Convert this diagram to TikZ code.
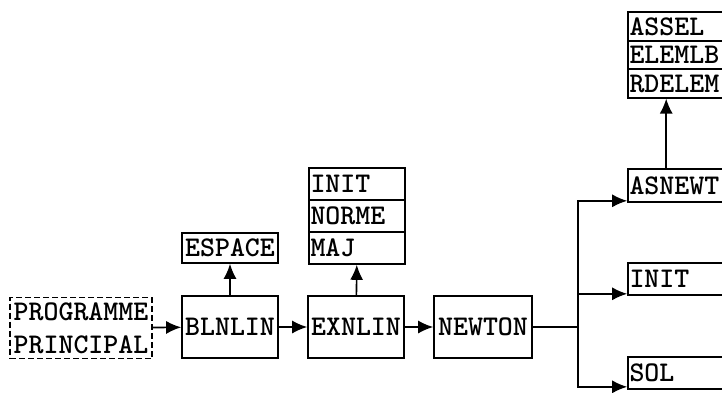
\documentclass[tikz,border=0pt]{standalone}
\usepackage{fontspec}
\usetikzlibrary{arrows.meta}
\tikzset{
  routine/.style={rectangle,draw=black,line width=1.6pt,minimum width=96pt,minimum height=62pt,inner sep=1pt},
  entry/.style={rectangle,draw=black,line width=1.6pt,text width=93pt,align=left,inner sep=1.5pt,minimum height=32pt},
  flow/.style={line width=1.6pt,-{Latex[length=15pt,width=13pt]}},
}
\begin{document}
\begin{tikzpicture}[x=1pt,y=-1pt,font=\ttfamily\bfseries\fontsize{28.5}{33}\selectfont]
\useasboundingbox (0,0) rectangle (722,392);
\clip (0,0) rectangle (722,392);

\node[routine,dash pattern=on 6pt off 3pt,minimum width=142pt,minimum height=61pt,align=left] (prog) at (81,328) {PROGRAMME\\PRINCIPAL};
\node[routine] (blnlin) at (230,327) {BLNLIN};
\draw[flow] (prog) -- (blnlin);
\node[routine,minimum height=30pt] (espace) at (230,248) {ESPACE};
\draw[flow] (blnlin) -- (espace);

\node[routine] (exnlin) at (356,327) {EXNLIN};
\draw[flow] (blnlin) -- (exnlin);
\node[entry] (init) at (357,184) {INIT};
\node[entry] (norme) at (357,216) {NORME};
\node[entry] (maj) at (357,248) {MAJ};
\draw[flow] (exnlin) -- (maj);

\node[routine,minimum width=98pt] (newton) at (483,327) {NEWTON};
\draw[flow] (exnlin) -- (newton);

% routines called by NEWTON (cut at the page edge)
\node[entry,text width=107pt,minimum height=33pt] (asnewt) at (683,185.5) {ASNEWT};
\node[entry,text width=107pt,minimum height=28.5pt] (assel) at (683,26.5) {ASSEL};
\node[entry,text width=107pt,minimum height=28.5pt] (elemlb) at (683,55) {ELEMLB};
\node[entry,text width=107pt,minimum height=28.5pt] (rdelem) at (683,83.5) {RDELEM};
\draw[flow] ([xshift=39pt]asnewt.north west) -- ([xshift=39pt]rdelem.south west);
\node[entry,text width=107pt,minimum height=32pt] (initn) at (683,279) {INIT};
\node[entry,text width=107pt,minimum height=32pt] (sol) at (683,373) {SOL};

\coordinate (fork) at (578,327);
\draw[line width=1.6pt] (newton) -- (fork);
\draw[flow] (fork) |- ([yshift=2pt]asnewt.south west);
\draw[flow] (fork) |- ([yshift=2pt]initn.south west);
\draw[flow] (fork) |- ([yshift=3pt]sol.south west);
\end{tikzpicture}
\end{document}
